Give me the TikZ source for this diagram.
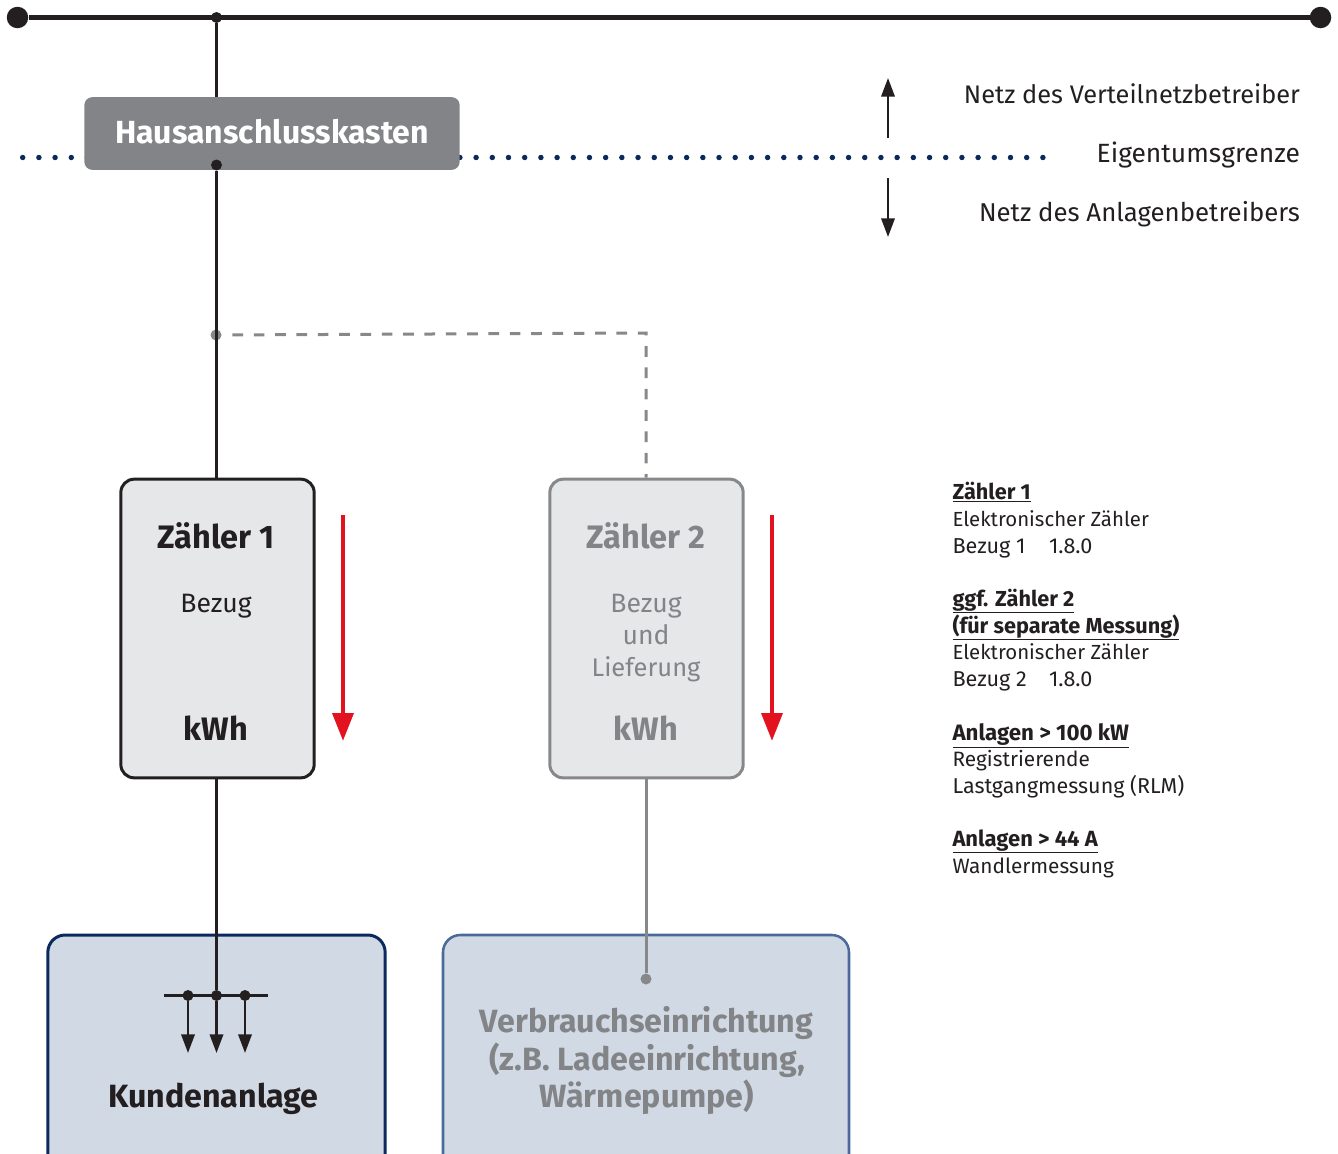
\documentclass[tikz,border=0pt]{standalone}
\usepackage{fontspec}
\setmainfont{Fira Sans}
\usetikzlibrary{arrows.meta}
\definecolor{ink}{HTML}{231F20}
\definecolor{midgray}{HTML}{87888B}
\definecolor{boxgray}{HTML}{838487}
\definecolor{meterfill}{HTML}{E6E7E9}
\definecolor{bluefill}{HTML}{D1D9E4}
\definecolor{navy}{HTML}{0B2A5B}
\definecolor{steel}{HTML}{4A6A9A}
\definecolor{signal}{HTML}{E2131F}
\newcommand{\fs}[1]{\fontsize{\the\dimexpr #1pt*3/4\relax}{\the\dimexpr #1pt*3/4\relax}\selectfont}
\tikzset{
  x=0.75pt,y=-0.75pt,
  dotnode/.style={circle,fill=ink,inner sep=0pt,minimum size=#1*0.75pt},
  graydot/.style={circle,fill=midgray,inner sep=0pt,minimum size=#1*0.75pt},
  wire/.style={draw=ink,line width=2.25pt},
  graywire/.style={draw=midgray,line width=2.25pt},
  meterbox/.style={rectangle,rounded corners=10pt,line width=2.25pt,minimum width=145pt,minimum height=224pt,inner sep=0pt},
  loadbox/.style={rectangle,rounded corners=13pt,fill=bluefill,line width=2.25pt,inner sep=0pt},
  lab/.style={inner sep=0pt,outer sep=0pt,anchor=base west},
  labr/.style={inner sep=0pt,outer sep=0pt,anchor=base east},
  labc/.style={inner sep=0pt,outer sep=0pt,anchor=base,align=center},
  smallarrow/.style={draw=ink,line width=1.9pt,-{Triangle[length=14pt,width=10pt]}},
  tinyarrow/.style={draw=ink,line width=1.9pt,-{Triangle[length=14pt,width=10pt]}},
  redarrow/.style={draw=signal,line width=3.4pt,-{Triangle[length=21pt,width=15.5pt]}},
}
\begin{document}
\begin{tikzpicture}
\useasboundingbox (0,0) rectangle (1338,1153);
\clip (0,0) rectangle (1338,1153);
% ownership boundary
\coordinate (dotA) at (22.7,157.5);
\coordinate (dotB) at (1050,157.5);
\draw[navy,line width=4.1pt,line cap=round,dash pattern=on 0pt off 12.145pt] (dotA) -- (dotB);
% bus
\node[dotnode=21.5] (busL) at (17.5,17.5) {};
\node[dotnode=21.5] (busR) at (1320.5,17.5) {};
\node[dotnode=11] (busT) at (216.5,17.5) {};
\draw[draw=ink,line width=4.3pt] (busL) -- (busR);
% house box
\node[rectangle,rounded corners=6pt,fill=boxgray,minimum width=281.5pt,minimum height=54.5pt,inner sep=0pt] (hak) at (272,133.5) {};
\node[labc,text=white,font=\fs{32}\bfseries] (haktext) at (272,143) {Hausanschlusskasten};
\draw[wire] (busT) -- (hak.north -| busT);
\node[dotnode=11] (hakdot) at (216.5,165) {};
% meters
\node[meterbox,draw=ink,fill=meterfill] (m1) at (217.5,628.5) {};
\node[meterbox,draw=midgray,fill=meterfill] (m2) at (646.5,628.5) {};
\node[graydot=11] (branch) at (216,335) {};
\draw[wire] (hakdot) -- (m1.north -| hakdot);
\coordinate (corner) at (646,333);
\draw[graywire,dash pattern=on 8pt off 8pt,dash phase=8pt] (branch) -- (corner) -- (m2.north -| corner);
% load boxes
\node[loadbox,draw=navy,minimum width=253pt,minimum height=225pt] (k) at (216.5,1085) {};
\node[loadbox,draw=steel,line width=1.9pt,minimum width=304.5pt,minimum height=225pt] (v) at (646,1085) {};
% feeds
\node[dotnode=11] (d2) at (216.5,995.5) {};
\node[dotnode=11] (d1) at (188,995.5) {};
\node[dotnode=11] (d3) at (245,995.5) {};
\coordinate (barL) at (164,995.5);
\coordinate (barR) at (268,995.5);
\coordinate (a1) at (188,1053);
\coordinate (a2) at (216.5,1053);
\coordinate (a3) at (245,1053);
\draw[wire] (m1.south -| d2) -- (d2);
\draw[wire] (barL) -- (barR);
\draw[tinyarrow] (d1) -- (a1);
\draw[tinyarrow] (d2) -- (a2);
\draw[tinyarrow] (d3) -- (a3);
\node[graydot=11] (vdot) at (646,979) {};
\draw[graywire] (m2.south -| vdot) -- (vdot);
% red arrows
\coordinate (r1a) at (343,515);\coordinate (r1b) at (343,741);
\coordinate (r2a) at (772,515);\coordinate (r2b) at (772,741);
\draw[redarrow] (r1a) -- (r1b);
\draw[redarrow] (r2a) -- (r2b);
% boundary arrows
\coordinate (u1) at (888,138);\coordinate (u2) at (888,78);
\coordinate (o1) at (888,178);\coordinate (o2) at (888,237);
\draw[smallarrow] (u1) -- (u2);
\draw[smallarrow] (o1) -- (o2);
% right labels
\node[labr,text=ink,font=\fs{25.4}] (t1) at (1300,103) {Netz des Verteilnetzbetreiber};
\node[labr,text=ink,font=\fs{26.4}] (t2) at (1300,162) {Eigentumsgrenze};
\node[labr,text=ink,font=\fs{25.8}] (t3) at (1300,221) {Netz des Anlagenbetreibers};
% meter labels
\node[labc,text=ink,font=\fs{32.5}\bfseries] (z1) at (216,548) {Zähler 1};
\node[labc,text=ink,font=\fs{26.6}] (z1b) at (216,612) {Bezug};
\node[labc,text=ink,font=\fs{32.5}\bfseries] (z1k) at (216,740) {kWh};
\node[labc,text=boxgray,font=\fs{32.5}\bfseries] (z2) at (646,548) {Zähler 2};
\node[labc,text=boxgray,font=\fs{26.6}] (z2a) at (646,612) {Bezug};
\node[labc,text=boxgray,font=\fs{26.6}] (z2b) at (646,644) {und};
\node[labc,text=boxgray,font=\fs{25.5}] (z2c) at (646,676) {Lieferung};
\node[labc,text=boxgray,font=\fs{32.5}\bfseries] (z2k) at (646,740) {kWh};
% load labels
\node[labc,text=ink,font=\fs{32.2}\bfseries] (kt) at (213.5,1107) {Kundenanlage};
\node[labc,text=boxgray,font=\fs{32.2}\bfseries] (v1) at (646.5,1032) {Verbrauchseinrichtung};
\node[labc,text=boxgray,font=\fs{32.2}\bfseries] (v2) at (647,1070) {(z.B. Ladeeinrichtung,};
\node[labc,text=boxgray,font=\fs{32.2}\bfseries] (v3) at (647,1107) {Wärmepumpe)};
% legend
\tikzset{hd/.style={lab,text=ink,font=\fs{21.7}\bfseries},bd/.style={lab,text=ink,font=\fs{20.4}},bdw/.style={lab,text=ink,font=\fs{21.6}}}
\node[hd] (l1) at (952.5,499) {\underline{Zähler 1}};
\node[bd] (l2) at (952.5,526) {Elektronischer Zähler};
\node[bdw] (l3) at (952.5,553) {Bezug 1};
\node[bdw] (l3b) at (1049,553) {1.8.0};
\node[hd] (l4) at (952.5,606) {\underline{ggf. Zähler 2}};
\node[hd] (l5) at (952.5,633) {\underline{(für separate Messung)}};
\node[bd] (l6) at (952.5,659) {Elektronischer Zähler};
\node[bdw] (l7) at (952.5,686) {Bezug 2};
\node[bdw] (l7b) at (1049,686) {1.8.0};
\node[hd,font=\fs{22.3}\bfseries] (l8) at (952.5,740) {\underline{Anlagen > 100 kW}};
\node[bdw,font=\fs{20.8}] (l9) at (952.5,766) {Registrierende};
\node[bdw,font=\fs{21.5}] (l10) at (952.5,793) {Lastgangmessung (RLM)};
\node[hd,font=\fs{22}\bfseries] (l11) at (952.5,846) {\underline{Anlagen > 44 A}};
\node[bdw,font=\fs{20.8}] (l12) at (952.5,873) {Wandlermessung};
\end{tikzpicture}
\end{document}
